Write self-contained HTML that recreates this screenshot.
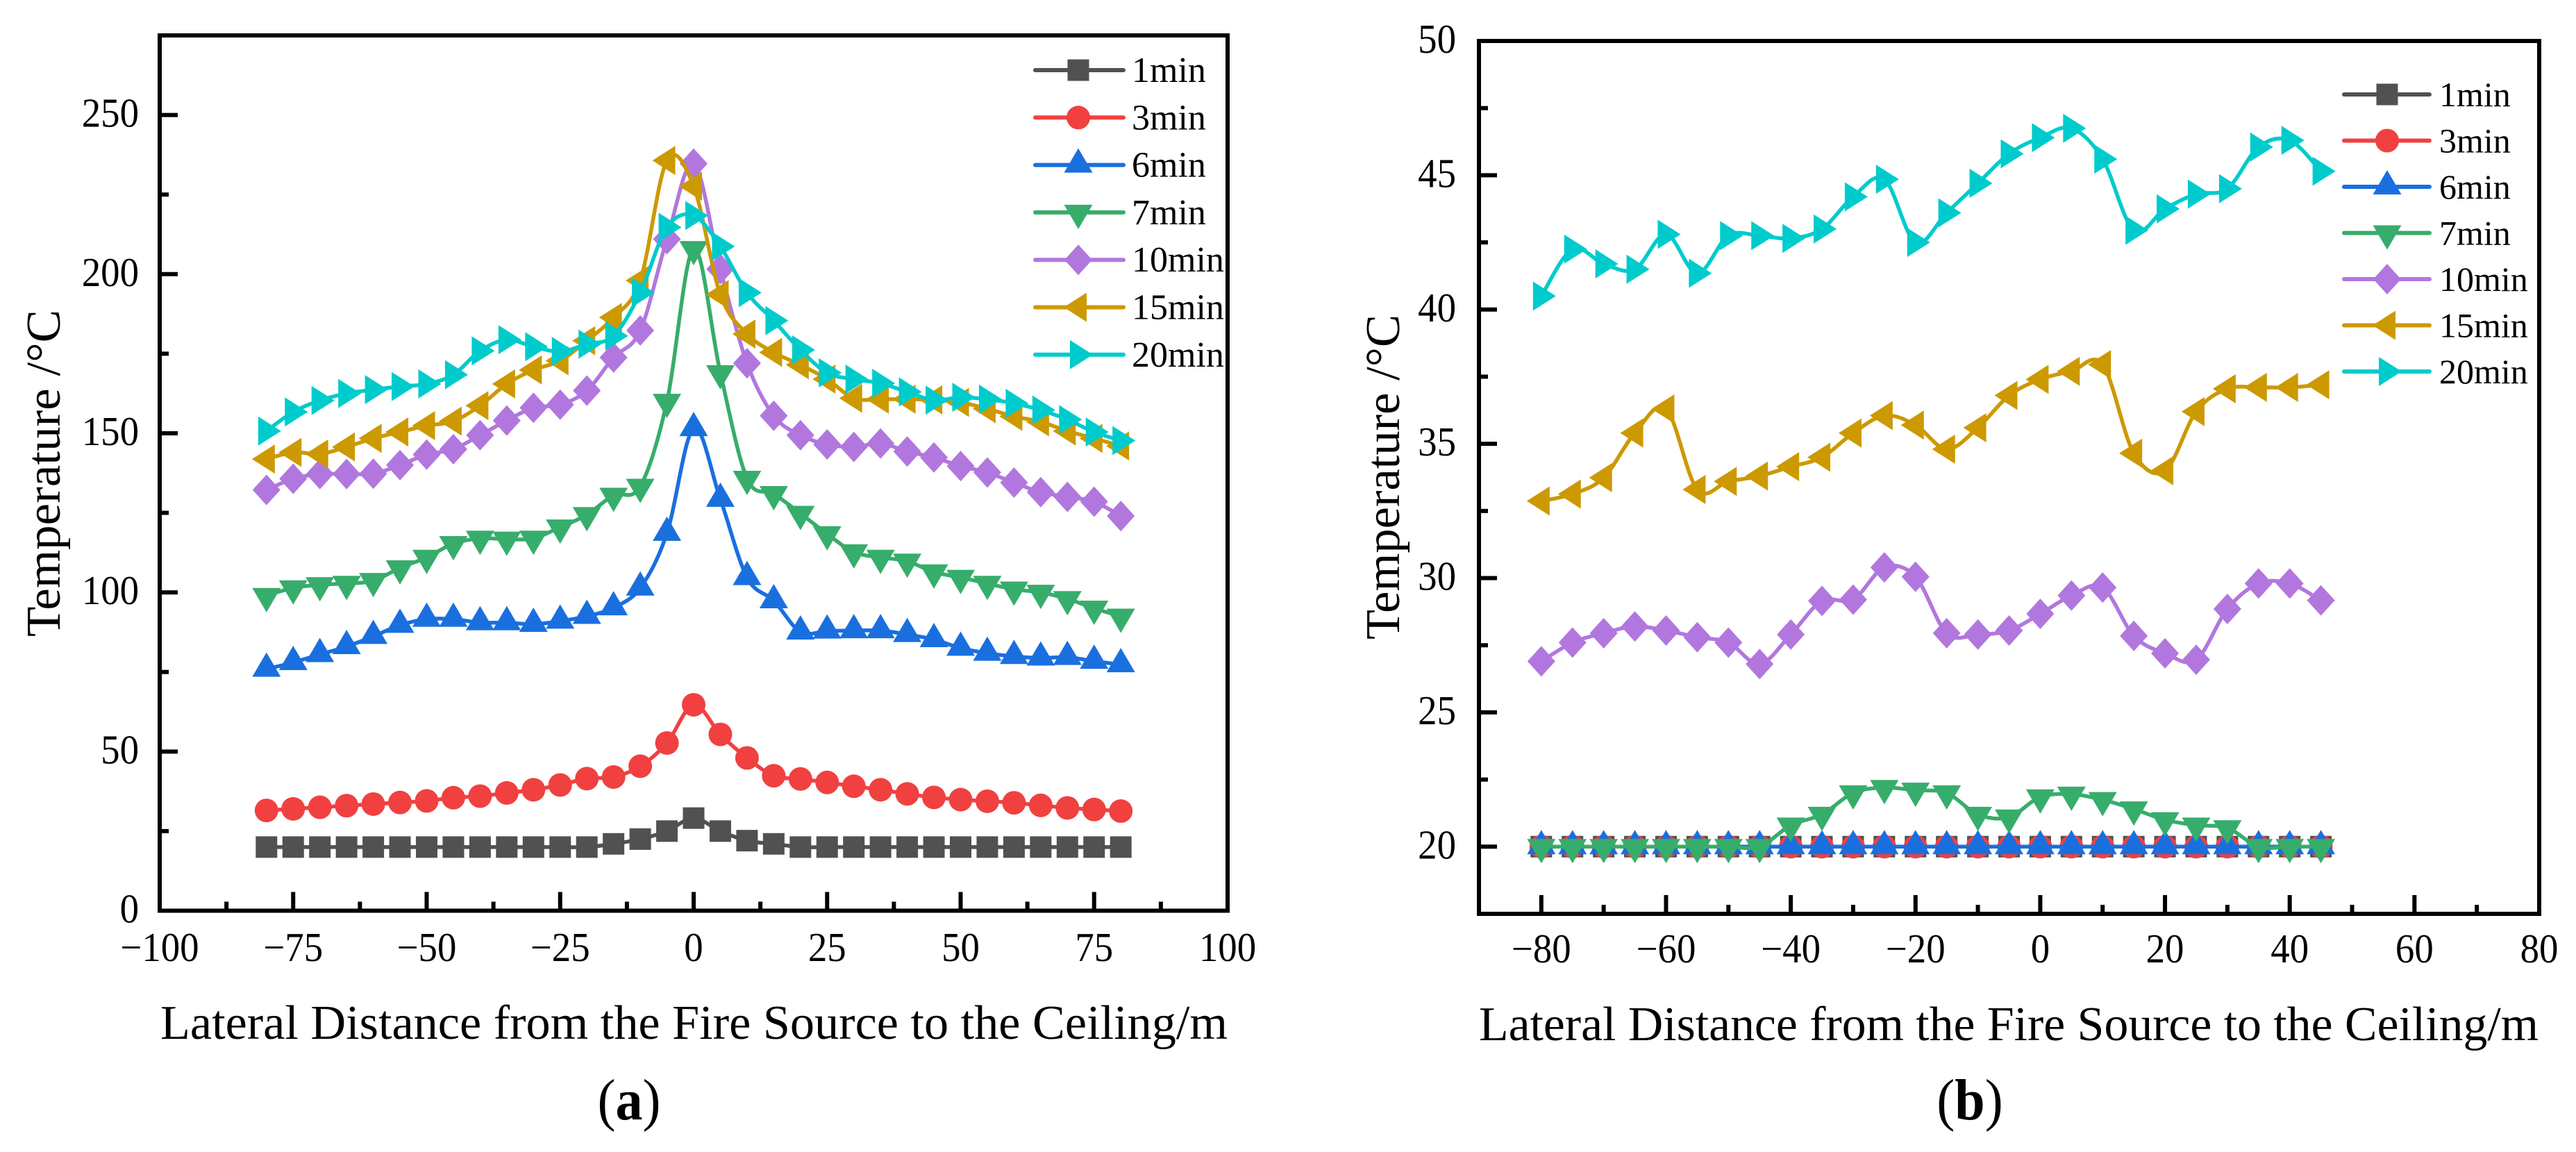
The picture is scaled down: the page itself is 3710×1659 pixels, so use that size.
<!DOCTYPE html>
<html lang="en">
<head>
<meta charset="utf-8">
<title>Temperature vs lateral distance</title>
<style>
html,body{margin:0;padding:0;background:#fff;width:3710px;height:1659px;overflow:hidden}
svg{display:block}
text{font-family:"Liberation Serif",serif;fill:#000}
</style>
</head>
<body>
<svg id="figure" xmlns="http://www.w3.org/2000/svg" width="3710" height="1659" viewBox="0 0 3710 1659">
<rect width="3710" height="1659" fill="#ffffff"/>
</svg>
<script>
const seriesLabels = ['1min','3min','6min','7min','10min','15min','20min'];

const aDistance = [-80,-75,-70,-65,-60,-55,-50,-45,-40,-35,-30,-25,-20,-15,-10,-5,0,5,10,15,20,25,30,35,40,45,50,55,60,65,70,75,80];
const a1min = [20,20,20,20,20,20,20,20,20,20,20,20,20,21,22.5,25,29.1,25,22,21,20,20,20,20,20,20,20,20,20,20,20,20,20];
const a3min = [31.5,32,32.5,33,33.5,34,34.5,35.5,36,37,38,39.5,41.5,42,45.4,52.7,64.7,55.4,48,42.4,41.4,40.3,39.1,38,36.7,35.6,34.9,34.4,33.9,33.1,32.3,31.8,31.3];
const a6min = [75.9,78,80.5,83,86.2,89.7,91.6,91.6,90.5,90.5,90,91,92.5,95.2,101.4,118.6,151.5,129.3,104.7,97.4,87.6,87.9,88,88,86.8,85.2,82.5,80.9,79.9,79.4,79.6,78.4,77.3];
const a7min = [99,101.4,102.4,102.8,103.7,107.7,111,115.3,117,116.7,117,120.5,124.4,130.5,133.3,160,208,169,135.8,131,124.8,118.4,112.7,111,109.8,106.4,104.7,102.8,101,100,98,95,92.5];
const a10min = [132.2,135.7,137.2,137.2,137.3,140,143.3,145,149.4,154,158,159,163.4,173.8,182.3,211,234.7,201.6,172,155.5,149.4,146.5,145.7,146.8,144.3,142.4,139.7,137.7,134.5,131.5,130,128.5,124];
const a15min = [141.9,144,143.5,145.7,148.4,150.4,152.4,153.8,158.7,165.5,169.9,172.8,179.1,186.4,198,235.7,227.6,193.6,181.2,175.4,171.5,167,161,160.7,160.7,160.5,159.7,157.7,155.3,153.6,150.7,148.4,146];
const a20min = [150.7,156.7,160.3,162.5,163.7,164.7,165.5,168.4,175.9,179.4,177.2,175.7,178,180.6,194.2,214.7,218.4,208.7,194.2,185.4,176.2,169,167,165.7,163,160.4,161.3,160.7,159.4,157.3,154.3,150.4,147.7];
const aXTicks = [-100,-75,-50,-25,0,25,50,75,100];
const aXTickLabels = ['\u2212100','\u221275','\u221250','\u221225','0','25','50','75','100'];
const aXMinor = [-87.5,-62.5,-37.5,-12.5,12.5,37.5,62.5,87.5];
const aYTicks = [0,50,100,150,200,250];
const aYTickLabels = ['0','50','100','150','200','250'];
const aYMinor = [25,75,125,175,225];

const bDistance = [-80,-75,-70,-65,-60,-55,-50,-45,-40,-35,-30,-25,-20,-15,-10,-5,0,5,10,15,20,25,30,35,40,45];
const b1min = [20,20,20,20,20,20,20,20,20,20,20,20,20,20,20,20,20,20,20,20,20,20,20,20,20,20];
const b3min = [20,20,20,20,20,20,20,20,20,20,20,20,20,20,20,20,20,20,20,20,20,20,20,20,20,20];
const b6min = [20,20,20,20,20,20,20,20,20,20,20,20,20,20,20,20,20,20,20,20,20,20,20,20,20,20];
const b7min = [20,20,20,20,20,20,20,20,20.8,21.2,22,22.2,22.1,22,21.2,21.1,21.85,21.95,21.75,21.4,21,20.8,20.7,20,20,20];
const b10min = [26.9,27.6,27.95,28.2,28.05,27.8,27.6,26.8,27.9,29.15,29.2,30.4,30.05,27.95,27.9,28.05,28.67,29.35,29.65,27.85,27.2,26.96,28.85,29.8,29.8,29.17];
const b15min = [32.87,33.13,33.74,35.4,36.3,33.3,33.6,33.8,34.15,34.5,35.4,36.05,35.7,34.8,35.6,36.8,37.4,37.7,37.95,34.65,34,36.2,37.05,37.1,37.1,37.2];
const b20min = [40.5,42.25,41.7,41.5,42.8,41.35,42.75,42.75,42.65,43,44.2,44.85,42.5,43.6,44.7,45.8,46.4,46.75,45.6,42.95,43.75,44.3,44.5,46.05,46.3,45.15];
const bXTicks = [-80,-60,-40,-20,0,20,40,60,80];
const bXTickLabels = ['\u221280','\u221260','\u221240','\u221220','0','20','40','60','80'];
const bXMinor = [-70,-50,-30,-10,10,30,50,70];
const bYTicks = [20,25,30,35,40,45,50];
const bYTickLabels = ['20','25','30','35','40','45','50'];
const bYMinor = [22.5,27.5,32.5,37.5,42.5,47.5];

const NS = 'http://www.w3.org/2000/svg';
const root = document.getElementById('figure');
const colors = ['#515151','#F14040','#1A6FDF','#37AD6B','#B177DE','#CC9900','#00CBCC'];
const shapes = ['square','circle','up','down','diamond','left','right'];

function svgEl(tag, parent) {
  const el = document.createElementNS(NS, tag);
  parent.appendChild(el);
  return el;
}

function linear(d0, d1, r0, r1) {
  return function (v) { return r0 + (v - d0) * (r1 - r0) / (d1 - d0); };
}

function addText(parent, str, x, y, size, anchor, sx) {
  const t = svgEl('text', parent);
  t.textContent = str;
  t.setAttribute('font-size', size);
  t.setAttribute('text-anchor', anchor);
  t.setAttribute('transform', 'translate(' + x + ',' + y + ') scale(' + sx + ',1)');
  return t;
}

function splinePath(pts) {
  let d = 'M' + pts[0][0] + ' ' + pts[0][1];
  for (let i = 0; i < pts.length - 1; i++) {
    const p0 = pts[Math.max(i - 1, 0)], p1 = pts[i], p2 = pts[i + 1], p3 = pts[Math.min(i + 2, pts.length - 1)];
    const c1x = p1[0] + (p2[0] - p0[0]) / 6, c1y = p1[1] + (p2[1] - p0[1]) / 6;
    const c2x = p2[0] - (p3[0] - p1[0]) / 6, c2y = p2[1] - (p3[1] - p1[1]) / 6;
    d += 'C' + c1x.toFixed(2) + ' ' + c1y.toFixed(2) + ' ' + c2x.toFixed(2) + ' ' + c2y.toFixed(2) + ' ' + p2[0].toFixed(2) + ' ' + p2[1].toFixed(2);
  }
  return d;
}

function addMarker(parent, shape, x, y, color) {
  let el;
  if (shape === 'circle') {
    el = svgEl('circle', parent);
    el.setAttribute('cx', x);
    el.setAttribute('cy', y);
    el.setAttribute('r', 17);
  } else {
    el = svgEl('polygon', parent);
    let p;
    if (shape === 'square') p = [[-15.5,-15.5],[15.5,-15.5],[15.5,15.5],[-15.5,15.5]];
    if (shape === 'up') p = [[0,-24],[20.5,11],[-20.5,11]];
    if (shape === 'down') p = [[0,24],[20.5,-11],[-20.5,-11]];
    if (shape === 'diamond') p = [[0,-22],[20,0],[0,22],[-20,0]];
    if (shape === 'left') p = [[-21,0],[12,-21],[12,21]];
    if (shape === 'right') p = [[21,0],[-12,-21],[-12,21]];
    el.setAttribute('points', p.map(function (q) { return (x + q[0]) + ',' + (y + q[1]); }).join(' '));
  }
  el.setAttribute('fill', color);
  return el;
}

function drawPanel(cfg) {
  const g = svgEl('g', root);
  
  
  const sx = linear(cfg.xDomain[0], cfg.xDomain[1], cfg.box.left, cfg.box.right);
  const sy = linear(cfg.yDomain[0], cfg.yDomain[1], cfg.box.bottom, cfg.box.top);

  cfg.series.forEach(function (vals, s) {
    const sg = svgEl('g', g);
    
    
    const pts = vals.map(function (v, i) { return [sx(cfg.x[i]), sy(v)]; });
    const line = svgEl('path', sg);
    
    
    line.setAttribute('d', splinePath(pts));
    line.setAttribute('fill', 'none');
    line.setAttribute('stroke', colors[s]);
    line.setAttribute('stroke-width', '5.5');
    pts.forEach(function (p) {
      const m = addMarker(sg, shapes[s], p[0], p[1], colors[s]);
      
      
    });
  });

  const frame = svgEl('rect', g);
  
  
  frame.setAttribute('x', cfg.box.left);
  frame.setAttribute('y', cfg.box.top);
  frame.setAttribute('width', cfg.box.right - cfg.box.left);
  frame.setAttribute('height', cfg.box.bottom - cfg.box.top);
  frame.setAttribute('fill', 'none');
  frame.setAttribute('stroke', '#000');
  frame.setAttribute('stroke-width', '6');

  function tick(x1, y1, x2, y2, name) {
    const l = svgEl('line', g);
    
    
    l.setAttribute('x1', x1);
    l.setAttribute('y1', y1);
    l.setAttribute('x2', x2);
    l.setAttribute('y2', y2);
    l.setAttribute('stroke', '#000');
    l.setAttribute('stroke-width', '6');
  }

  cfg.xTicks.forEach(function (v, i) {
    tick(sx(v), cfg.box.bottom, sx(v), cfg.box.bottom - 27, 'x-major-tick');
    const t = addText(g, cfg.xTickLabels[i], sx(v), cfg.xLabelY, 59, 'middle', 0.93);
    
    
  });
  cfg.xMinor.forEach(function (v) {
    tick(sx(v), cfg.box.bottom, sx(v), cfg.box.bottom - 13, 'x-minor-tick');
  });
  cfg.yTicks.forEach(function (v, i) {
    tick(cfg.box.left, sy(v), cfg.box.left + 26, sy(v), 'y-major-tick');
    const t = addText(g, cfg.yTickLabels[i], cfg.yLabelX, sy(v) + 17, 59, 'end', 0.93);
    
    
  });
  cfg.yMinor.forEach(function (v) {
    tick(cfg.box.left, sy(v), cfg.box.left + 13, sy(v), 'y-minor-tick');
  });

  const xt = svgEl('text', g);
  
  
  xt.textContent = 'Lateral Distance from the Fire Source to the Ceiling/m';
  xt.setAttribute('x', cfg.xTitle.x);
  xt.setAttribute('y', cfg.xTitle.y);
  xt.setAttribute('font-size', '70');
  xt.setAttribute('textLength', cfg.xTitle.len);
  xt.setAttribute('lengthAdjust', 'spacingAndGlyphs');

  const yt = svgEl('text', g);
  
  
  yt.textContent = 'Temperature /\u00B0C';
  yt.setAttribute('transform', 'translate(' + cfg.yTitle.x + ',' + cfg.yTitle.y + ') rotate(-90)');
  yt.setAttribute('font-size', '70');
  yt.setAttribute('textLength', cfg.yTitle.len);
  yt.setAttribute('lengthAdjust', 'spacingAndGlyphs');

  const lg = svgEl('g', g);
  
  
  seriesLabels.forEach(function (label, s) {
    const y = cfg.legend.y0 + s * cfg.legend.dy;
    const e = svgEl('g', lg);
    
    
    const l = svgEl('line', e);
    
    
    l.setAttribute('x1', cfg.legend.x1);
    l.setAttribute('x2', cfg.legend.x2);
    l.setAttribute('y1', y);
    l.setAttribute('y2', y);
    l.setAttribute('stroke', colors[s]);
    l.setAttribute('stroke-width', '6');
    l.setAttribute('stroke-linecap', 'round');
    const m = addMarker(e, shapes[s], cfg.legend.mx, y, colors[s]);
    
    
    const t = addText(e, label, cfg.legend.tx, y + 17, cfg.legend.size, 'start', 1);
    
    
  });

  const cap = svgEl('text', g);
  
  
  cap.setAttribute('transform', 'translate(' + cfg.caption.x + ',' + cfg.caption.y + ') scale(0.93,1)');
  cap.setAttribute('font-size', '84');
  cap.setAttribute('text-anchor', 'middle');
  const c1 = svgEl('tspan', cap);
  c1.textContent = '(';
  const c2 = svgEl('tspan', cap);
  c2.textContent = cfg.caption.letter;
  c2.setAttribute('font-weight', 'bold');
  const c3 = svgEl('tspan', cap);
  c3.textContent = ')';
}

drawPanel({
  name: 'chart-a',
  box: {left: 230, right: 1768, top: 51, bottom: 1311.5},
  xDomain: [-100, 100],
  yDomain: [0, 275],
  x: aDistance,
  series: [a1min, a3min, a6min, a7min, a10min, a15min, a20min],
  xTicks: aXTicks, xTickLabels: aXTickLabels, xMinor: aXMinor,
  yTicks: aYTicks, yTickLabels: aYTickLabels, yMinor: aYMinor,
  xLabelY: 1384, yLabelX: 200,
  xTitle: {x: 231, y: 1496, len: 1537},
  yTitle: {x: 86, y: 917, len: 471},
  legend: {x1: 1491, x2: 1618, mx: 1553, tx: 1630, y0: 101, dy: 68.3, size: 52},
  caption: {x: 906, y: 1612, letter: 'a'}
});

drawPanel({
  name: 'chart-b',
  box: {left: 2130, right: 3657, top: 59, bottom: 1316},
  xDomain: [-90, 80],
  yDomain: [17.5, 50],
  x: bDistance,
  series: [b1min, b3min, b6min, b7min, b10min, b15min, b20min],
  xTicks: bXTicks, xTickLabels: bXTickLabels, xMinor: bXMinor,
  yTicks: bYTicks, yTickLabels: bYTickLabels, yMinor: bYMinor,
  xLabelY: 1386, yLabelX: 2097,
  xTitle: {x: 2130, y: 1498, len: 1526},
  yTitle: {x: 2015, y: 921, len: 468},
  legend: {x1: 3376, x2: 3499, mx: 3438, tx: 3513, y0: 136, dy: 66.5, size: 50},
  caption: {x: 2837, y: 1612, letter: 'b'}
});
</script>
</body>
</html>
